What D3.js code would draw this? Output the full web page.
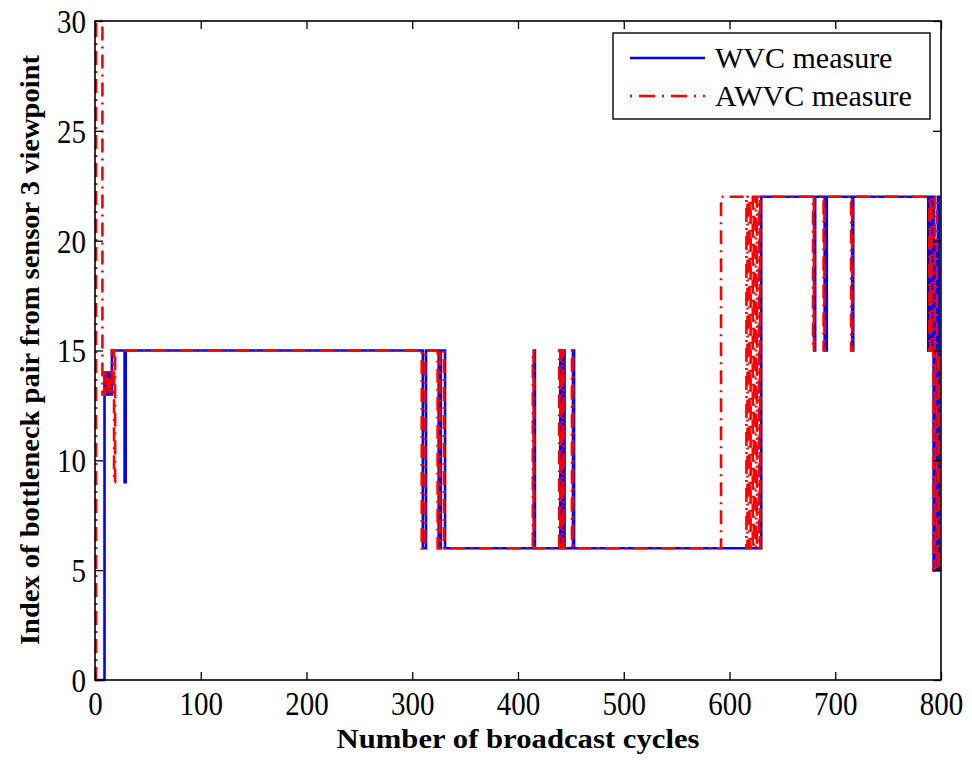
<!DOCTYPE html>
<html>
<head>
<meta charset="utf-8">
<script src="https://cdn.jsdelivr.net/npm/d3@7"></script>
<style>
  body { margin: 0; background: #fff; }
  text { font-family: "Liberation Serif", "Times New Roman", serif; fill: #000; }
</style>
</head>
<body>
<svg width="972" height="761"></svg>
<script>
// change points of each series: value holds from that cycle until the next one
var wvcCycles = [0, 9, 11, 12, 14, 16, 28, 29, 310, 313, 325, 327, 331, 415, 416, 440, 441, 443, 444, 452, 453,
                 630, 680, 681, 690, 692, 716, 717, 788, 789, 790, 792, 793, 794, 795, 797, 798, 800];
var wvcValues = [0, 14, 13, 14, 13, 15, 9, 15, 6, 15, 6, 15, 6, 15, 6, 15, 6, 15, 6, 15, 6,
                 22, 15, 22, 15, 22, 15, 22, 15, 22, 15, 22, 5, 20, 5, 22, 5, 5];

var awvcCycles = [0, 1, 7, 9, 10, 12, 14, 16, 18, 19, 309, 312, 324, 326, 330, 414, 415, 439, 440, 442, 443, 451, 452,
                  592, 616, 617, 619, 620, 622, 623, 625, 626, 628, 629, 679, 680, 689, 690, 715, 716,
                  789, 790, 791, 793, 794, 796, 797, 798, 800];
var awvcValues = [0, 30, 13, 14, 13, 14, 13, 15, 9, 15, 6, 15, 6, 15, 6, 15, 6, 15, 6, 15, 6, 15, 6,
                  22, 6, 22, 6, 22, 6, 22, 6, 22, 6, 22, 15, 22, 15, 22, 15, 22,
                  15, 22, 15, 5, 22, 5, 15, 5, 5];

var xTicks = [0, 100, 200, 300, 400, 500, 600, 700, 800];
var yTicks = [0, 5, 10, 15, 20, 25, 30];
var seriesNames = ["WVC measure", "AWVC measure"];

var margin = {left: 95, right: 31, top: 21, bottom: 81};
var width = 972 - margin.left - margin.right;
var height = 761 - margin.top - margin.bottom;

var svg = d3.select("svg");
var g = svg.append("g")
	.attr("transform", "translate(" + margin.left + "," + margin.top + ")");

var xScale = d3.scaleLinear().domain([0, 800]).range([0, width]);
var yScale = d3.scaleLinear().domain([0, 30]).range([height, 0]);

function toPoints(cs, vs) {
	return cs.map(function(c, i) { return {x: c, y: vs[i]}; });
}

var line = d3.line()
	.x(function(d) { return xScale(d.x); })
	.y(function(d) { return yScale(d.y); })
	.curve(d3.curveStepAfter);

g.append("clipPath").attr("id", "plotclip")
	.append("rect").attr("x", 0).attr("y", -2).attr("width", width).attr("height", height + 4);

var plot = g.append("g").attr("clip-path", "url(#plotclip)");

// blue first, red dash-dot on top
plot.append("path")
	.attr("d", line(toPoints(wvcCycles, wvcValues)))
	.attr("fill", "none")
	.attr("stroke", "#0000ff")
	.attr("stroke-width", 2.6);

plot.append("path")
	.attr("d", line(toPoints(awvcCycles, awvcValues)))
	.attr("fill", "none")
	.attr("stroke", "#ff0000")
	.attr("stroke-width", 2.6)
	.attr("stroke-dasharray", "14,6,2,6");

// axes with inward ticks, drawn on all four sides
var tickLen = 8;
var xAxis = g.append("g")
	.attr("transform", "translate(0," + height + ")")
	.call(d3.axisBottom(xScale).tickValues(xTicks).tickSizeInner(-tickLen).tickSizeOuter(0));
var yAxis = g.append("g")
	.call(d3.axisLeft(yScale).tickValues(yTicks).tickSizeInner(-tickLen).tickSizeOuter(0).tickPadding(9));
g.append("g")
	.call(d3.axisTop(xScale).tickValues(xTicks).tickSizeInner(-tickLen).tickSizeOuter(0).tickFormat(""));
g.append("g")
	.attr("transform", "translate(" + width + ",0)")
	.call(d3.axisRight(yScale).tickValues(yTicks).tickSizeInner(-tickLen).tickSizeOuter(0).tickFormat(""));

g.selectAll(".domain").remove();
g.selectAll(".tick line").attr("stroke", "#000").attr("stroke-width", 1.3);
g.selectAll(".tick text")
	.style("font-family", "Liberation Serif, serif")
	.style("font-size", "29px");

// the tick digits in the original are a bit taller than they are wide
var stretch = 1.15;
xAxis.selectAll(".tick text")
	.attr("y", 35).attr("dy", 0)
	.attr("transform", "translate(0,35) scale(1," + stretch + ") translate(0,-35)");
yAxis.selectAll(".tick text")
	.attr("dy", "0.34em")
	.attr("transform", "scale(1," + stretch + ")");

g.append("rect")
	.attr("width", width).attr("height", height)
	.attr("fill", "none").attr("stroke", "#000").attr("stroke-width", 1.6);

// axis titles
svg.append("text")
	.attr("x", margin.left + width / 2)
	.attr("y", 748)
	.attr("text-anchor", "middle")
	.attr("textLength", 363).attr("lengthAdjust", "spacingAndGlyphs")
	.style("font-size", "27px").style("font-weight", "bold")
	.text("Number of broadcast cycles");

svg.append("text")
	.attr("transform", "translate(39,350) rotate(-90)")
	.attr("text-anchor", "middle")
	.attr("textLength", 590).attr("lengthAdjust", "spacingAndGlyphs")
	.style("font-size", "27px").style("font-weight", "bold")
	.text("Index of bottleneck pair from sensor 3 viewpoint");

// legend
var legend = svg.append("g").attr("transform", "translate(613,33)");
legend.append("rect")
	.attr("width", 317).attr("height", 86)
	.attr("fill", "#fff").attr("stroke", "#000").attr("stroke-width", 1.4);

var entries = legend.selectAll(".entry")
	.data(seriesNames)
	.enter().append("g")
	.attr("class", "entry")
	.attr("transform", function(d, i) { return "translate(0," + (25 + i * 38) + ")"; });

entries.append("line")
	.attr("x1", 17).attr("x2", 92)
	.attr("stroke", function(d, i) { return i == 0 ? "#0000ff" : "#ff0000"; })
	.attr("stroke-width", 2.6)
	.attr("stroke-dasharray", function(d, i) { return i == 0 ? null : "2,7,16,7"; });

entries.append("text")
	.attr("x", 102)
	.attr("y", 10)
	.style("font-size", "30px")
	.text(function(d) { return d; });
</script>
</body>
</html>
